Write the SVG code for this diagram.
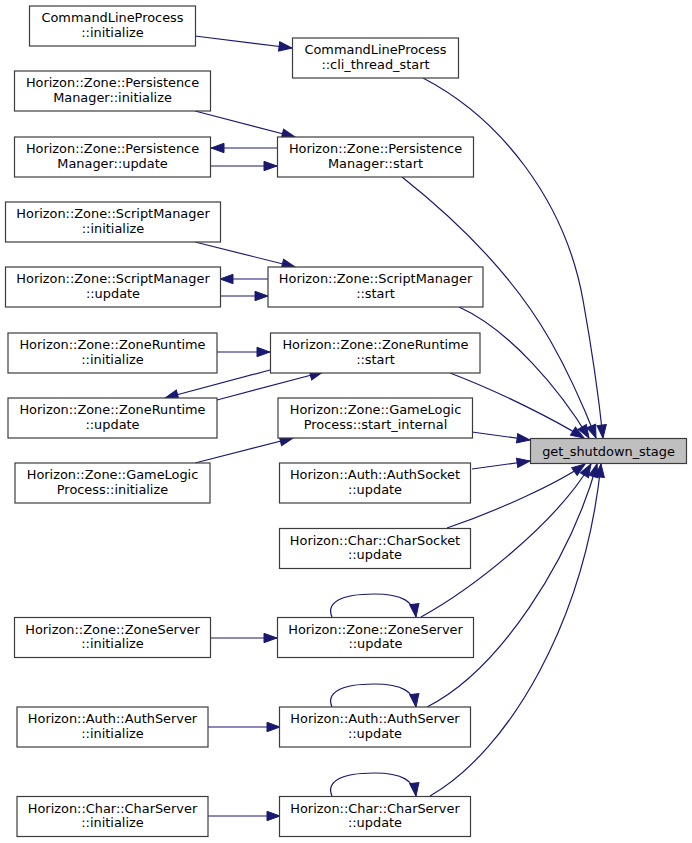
<svg xmlns="http://www.w3.org/2000/svg" width="692" height="843" viewBox="0 0 692 843">
<style>
.n rect{fill:#ffffff;stroke:#3c3c3c;stroke-width:1.2}
.t rect{fill:#bfbfbf;stroke:#3c3c3c;stroke-width:1.2}
text{font-family:"DejaVu Sans",sans-serif;font-size:12.9px;fill:#000000;text-anchor:middle}
.e path{fill:none;stroke:#191970;stroke-width:1.2;marker-end:url(#ah)}
</style>
<defs>
<marker id="ah" markerUnits="userSpaceOnUse" markerWidth="15" markerHeight="12" viewBox="-1 -1 15 11.4" refX="13" refY="4.7" orient="auto">
<path d="M0,0 L13,4.7 L0,9.4 z" fill="#191970" stroke="#191970" stroke-width="1"/>
</marker>
</defs>
<rect width="692" height="843" fill="#ffffff"/>
<g id="edges" class="e">
<path d="M195,36 L292,48"/>
<path d="M423,78 C500,118 565,200 583,300 C592,350 599,400 603,438"/>
<path d="M195,111 L295,137"/>
<path d="M277,148 L211,148"/>
<path d="M211,166 L277,166"/>
<path d="M402,177 C450,215 510,270 550,340 C570,375 585,410 596,438"/>
<path d="M195,242 L295,267"/>
<path d="M268,279 L220,279"/>
<path d="M220,296 L268,296"/>
<path d="M459,307 C510,330 560,390 589,438"/>
<path d="M217,352 L270,352"/>
<path d="M270,370 L165,398"/>
<path d="M217,400 L323,372"/>
<path d="M450,373 C500,392 555,420 584,438"/>
<path d="M472,432 L530,440"/>
<path d="M195,463 L293,438"/>
<path d="M472,469 L530,461"/>
<path d="M447,528 C500,510 560,482 585,464"/>
<path d="M421,617 C470,590 555,525 591,464"/>
<path d="M332,617 C326,603 340,594 374,594 C403,594 414,602 416,617"/>
<path d="M210,638 L277,638"/>
<path d="M427,707 C500,670 570,560 597,464"/>
<path d="M332,707 C326,693 340,684 374,684 C403,684 414,692 416,707"/>
<path d="M207,727 L280,727"/>
<path d="M430,796 C510,750 585,620 601,464"/>
<path d="M332,796 C326,782 340,773 374,773 C403,773 414,781 416,796"/>
<path d="M207,816 L280,816"/>
</g>
<g id="n_target" class="t"><rect x="530.5" y="438.5" width="156" height="25"/><text x="608.5" y="455.5">get_shutdown_stage</text></g>
<g id="n_clp_init" class="n"><rect x="29.5" y="6" width="166" height="40"/><text x="112.5" y="22">CommandLineProcess</text><text x="112.5" y="36.5">::initialize</text></g>
<g id="n_clp_cli" class="n"><rect x="292.5" y="38" width="166" height="40"/><text x="375.5" y="54">CommandLineProcess</text><text x="375.5" y="68.5">::cli_thread_start</text></g>
<g id="n_pm_init" class="n"><rect x="14.5" y="71" width="196" height="40"/><text x="112.5" y="87">Horizon::Zone::Persistence</text><text x="112.5" y="101.5">Manager::initialize</text></g>
<g id="n_pm_update" class="n"><rect x="14.5" y="137" width="196" height="40"/><text x="112.5" y="153">Horizon::Zone::Persistence</text><text x="112.5" y="167.5">Manager::update</text></g>
<g id="n_pm_start" class="n"><rect x="277.5" y="137" width="196" height="40"/><text x="375.5" y="153">Horizon::Zone::Persistence</text><text x="375.5" y="167.5">Manager::start</text></g>
<g id="n_sm_init" class="n"><rect x="5.5" y="202" width="215" height="40"/><text x="113" y="218">Horizon::Zone::ScriptManager</text><text x="113" y="232.5">::initialize</text></g>
<g id="n_sm_update" class="n"><rect x="5.5" y="267" width="215" height="40"/><text x="113" y="283">Horizon::Zone::ScriptManager</text><text x="113" y="297.5">::update</text></g>
<g id="n_sm_start" class="n"><rect x="268" y="267" width="215" height="40"/><text x="375.5" y="283">Horizon::Zone::ScriptManager</text><text x="375.5" y="297.5">::start</text></g>
<g id="n_zr_init" class="n"><rect x="8" y="333" width="209" height="40"/><text x="112.5" y="349">Horizon::Zone::ZoneRuntime</text><text x="112.5" y="363.5">::initialize</text></g>
<g id="n_zr_update" class="n"><rect x="8" y="398" width="209" height="40"/><text x="112.5" y="414">Horizon::Zone::ZoneRuntime</text><text x="112.5" y="428.5">::update</text></g>
<g id="n_zr_start" class="n"><rect x="270.5" y="333" width="209.5" height="40"/><text x="375.5" y="349">Horizon::Zone::ZoneRuntime</text><text x="375.5" y="363.5">::start</text></g>
<g id="n_glp_start" class="n"><rect x="278" y="398" width="194.5" height="40"/><text x="375.5" y="414">Horizon::Zone::GameLogic</text><text x="375.5" y="428.5">Process::start_internal</text></g>
<g id="n_glp_init" class="n"><rect x="15" y="463" width="195" height="40"/><text x="112.5" y="479">Horizon::Zone::GameLogic</text><text x="112.5" y="493.5">Process::initialize</text></g>
<g id="n_authsock" class="n"><rect x="279.5" y="463" width="191" height="40"/><text x="375" y="479">Horizon::Auth::AuthSocket</text><text x="375" y="493.5">::update</text></g>
<g id="n_charsock" class="n"><rect x="279.5" y="528.5" width="191" height="40"/><text x="375" y="544.5">Horizon::Char::CharSocket</text><text x="375" y="559">::update</text></g>
<g id="n_zs_init" class="n"><rect x="14.5" y="617.5" width="196" height="40"/><text x="112.5" y="633.5">Horizon::Zone::ZoneServer</text><text x="112.5" y="648">::initialize</text></g>
<g id="n_zs_update" class="n"><rect x="277.5" y="617.5" width="196" height="40"/><text x="375.5" y="633.5">Horizon::Zone::ZoneServer</text><text x="375.5" y="648">::update</text></g>
<g id="n_as_init" class="n"><rect x="17" y="707" width="191" height="40"/><text x="112.5" y="723">Horizon::Auth::AuthServer</text><text x="112.5" y="737.5">::initialize</text></g>
<g id="n_as_update" class="n"><rect x="279.5" y="707" width="191" height="40"/><text x="375" y="723">Horizon::Auth::AuthServer</text><text x="375" y="737.5">::update</text></g>
<g id="n_cs_init" class="n"><rect x="17" y="796.5" width="191" height="40"/><text x="112.5" y="812.5">Horizon::Char::CharServer</text><text x="112.5" y="827">::initialize</text></g>
<g id="n_cs_update" class="n"><rect x="279.5" y="796.5" width="191" height="40"/><text x="375" y="812.5">Horizon::Char::CharServer</text><text x="375" y="827">::update</text></g>
</svg>
